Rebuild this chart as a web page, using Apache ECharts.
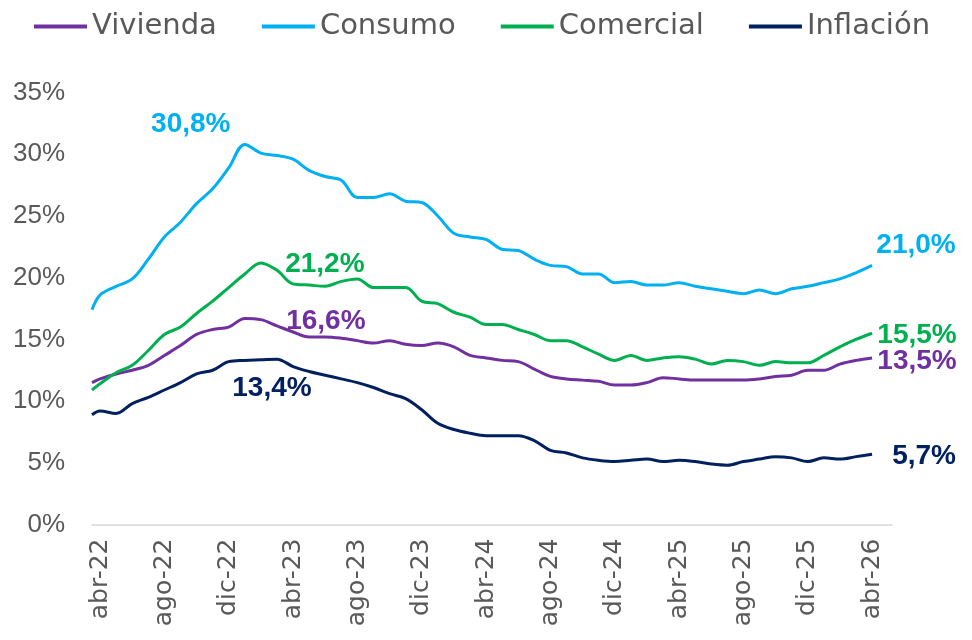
<!DOCTYPE html>
<html>
<head>
<meta charset="utf-8">
<script src="https://cdn.jsdelivr.net/npm/echarts@6/dist/echarts.min.js"></script>
<style>
  html, body { margin: 0; padding: 0; background: #fff; }
  #chart { width: 972px; height: 640px; }
</style>
</head>
<body>
<div id="chart"></div>
<script>
// primer punto: mediados de mar-22, luego un dato por mes (abr-22 ... abr-26)
const vivienda = [11.5, 11.8, 12.2, 12.5, 12.9, 13.7, 14.5, 15.4, 15.8, 16.0, 16.7, 16.6, 16.1, 15.6, 15.2, 15.2, 15.1, 14.9, 14.7, 14.9, 14.6, 14.5, 14.7, 14.4, 13.7, 13.5, 13.3, 13.2, 12.6, 12.0, 11.8, 11.7, 11.6, 11.3, 11.3, 11.5, 11.9, 11.8, 11.7, 11.7, 11.7, 11.7, 11.8, 12.0, 12.1, 12.5, 12.5, 13.0, 13.3, 13.5]
const consumo = [17.4, 18.6, 19.3, 19.9, 21.5, 23.3, 24.5, 26.0, 27.2, 28.9, 30.8, 30.1, 29.9, 29.6, 28.7, 28.2, 27.9, 26.5, 26.5, 26.8, 26.2, 26.1, 25.0, 23.6, 23.3, 23.1, 22.3, 22.2, 21.5, 21.0, 20.9, 20.3, 20.3, 19.6, 19.7, 19.4, 19.4, 19.6, 19.3, 19.1, 18.9, 18.7, 19.0, 18.7, 19.1, 19.3, 19.6, 19.9, 20.4, 21.0]
const comercial = [10.9, 11.4, 12.3, 12.9, 14.1, 15.4, 16.0, 17.1, 18.1, 19.2, 20.3, 21.2, 20.6, 19.5, 19.4, 19.3, 19.7, 19.9, 19.2, 19.2, 19.2, 18.1, 17.9, 17.2, 16.8, 16.2, 16.2, 15.8, 15.4, 14.9, 14.9, 14.4, 13.8, 13.3, 13.7, 13.3, 13.5, 13.6, 13.4, 13.0, 13.3, 13.2, 12.9, 13.2, 13.1, 13.1, 13.7, 14.4, 15.0, 15.5]
const inflacion = [8.9, 9.2, 9.0, 9.8, 10.3, 10.9, 11.5, 12.2, 12.5, 13.2, 13.3, 13.35, 13.4, 12.8, 12.4, 12.1, 11.8, 11.5, 11.1, 10.6, 10.2, 9.3, 8.2, 7.7, 7.4, 7.2, 7.2, 7.2, 6.8, 6.0, 5.8, 5.4, 5.2, 5.1, 5.2, 5.3, 5.1, 5.2, 5.1, 4.9, 4.8, 5.1, 5.3, 5.5, 5.4, 5.1, 5.4, 5.3, 5.5, 5.7]

const etiquetas = ['abr-22', 'ago-22', 'dic-22', 'abr-23', 'ago-23', 'dic-23', 'abr-24', 'ago-24', 'dic-24', 'abr-25', 'ago-25', 'dic-25', 'abr-26']
const ticksX = [0, 4, 8, 12, 16, 20, 24, 28, 32, 36, 40, 44, 48]

// posición en meses desde abr-22
const mesX = i => (i === 0 ? -0.5 : i - 1)
const toXY = arr => arr.map((v, i) => [mesX(i), v])
const fmt = v => v.toFixed(1).replace('.', ',') + '%'

const mark = (arr, idx, offset) => ({
  coord: [mesX(idx), arr[idx]],
  value: arr[idx],
  label: { offset }
})

const makeSeries = (name, arr, color, marks) => ({
  name,
  type: 'line',
  data: toXY(arr),
  smooth: 0.35,
  showSymbol: false,
  lineStyle: { color, width: 3 },
  itemStyle: { color },
  emphasis: { disabled: true },
  markPoint: {
    symbol: 'circle',
    symbolSize: 1,
    itemStyle: { color: 'rgba(0,0,0,0)' },
    label: {
      show: true,
      position: 'inside',
      color,
      fontFamily: 'Liberation Sans',
      fontWeight: 'bold',
      fontSize: 28,
      formatter: p => fmt(p.value)
    },
    data: marks
  }
})

const chart = echarts.init(document.getElementById('chart'))

chart.setOption({
  animation: false,
  legend: {
    top: 7,
    left: 29,
    icon: 'rect',
    itemWidth: 53,
    itemHeight: 4,
    itemGap: 45,
    textStyle: { fontFamily: 'DejaVu Sans', fontSize: 29, color: '#595959' },
    data: ['Vivienda', 'Consumo', 'Comercial', 'Inflación']
  },
  grid: { left: 92, right: 80, top: 92.6, bottom: 115.5, containLabel: false },
  xAxis: {
    type: 'value',
    min: -0.5,
    max: 49.24,
    splitLine: { show: false },
    axisTick: { show: false },
    axisLine: { lineStyle: { color: '#d9d9d9', width: 1.5 } },
    axisLabel: {
      customValues: ticksX,
      rotate: 90,
      margin: 14,
      fontFamily: 'DejaVu Sans',
      fontSize: 25,
      color: '#595959',
      formatter: v => etiquetas[ticksX.indexOf(v)]
    }
  },
  yAxis: {
    type: 'value',
    min: 0,
    max: 35,
    interval: 5,
    splitLine: { show: false },
    axisLine: { show: false },
    axisTick: { show: false },
    axisLabel: {
      margin: 27,
      fontFamily: 'Liberation Sans',
      fontSize: 26,
      color: '#595959',
      formatter: '{value}%'
    }
  },
  series: [
    makeSeries('Vivienda', vivienda, '#7030A0', [mark(vivienda, 11, [65, 2]), mark(vivienda, 49, [45, 3])]),
    makeSeries('Consumo', consumo, '#00B0F0', [mark(consumo, 10, [-54, -20]), mark(consumo, 49, [44, -20])]),
    makeSeries('Comercial', comercial, '#00B050', [mark(comercial, 11, [64, 1]), mark(comercial, 49, [45, 2])]),
    makeSeries('Inflación', inflacion, '#002060', [mark(inflacion, 12, [-5, 29]), mark(inflacion, 49, [52, 2])])
  ]
})
</script>
</body>
</html>
